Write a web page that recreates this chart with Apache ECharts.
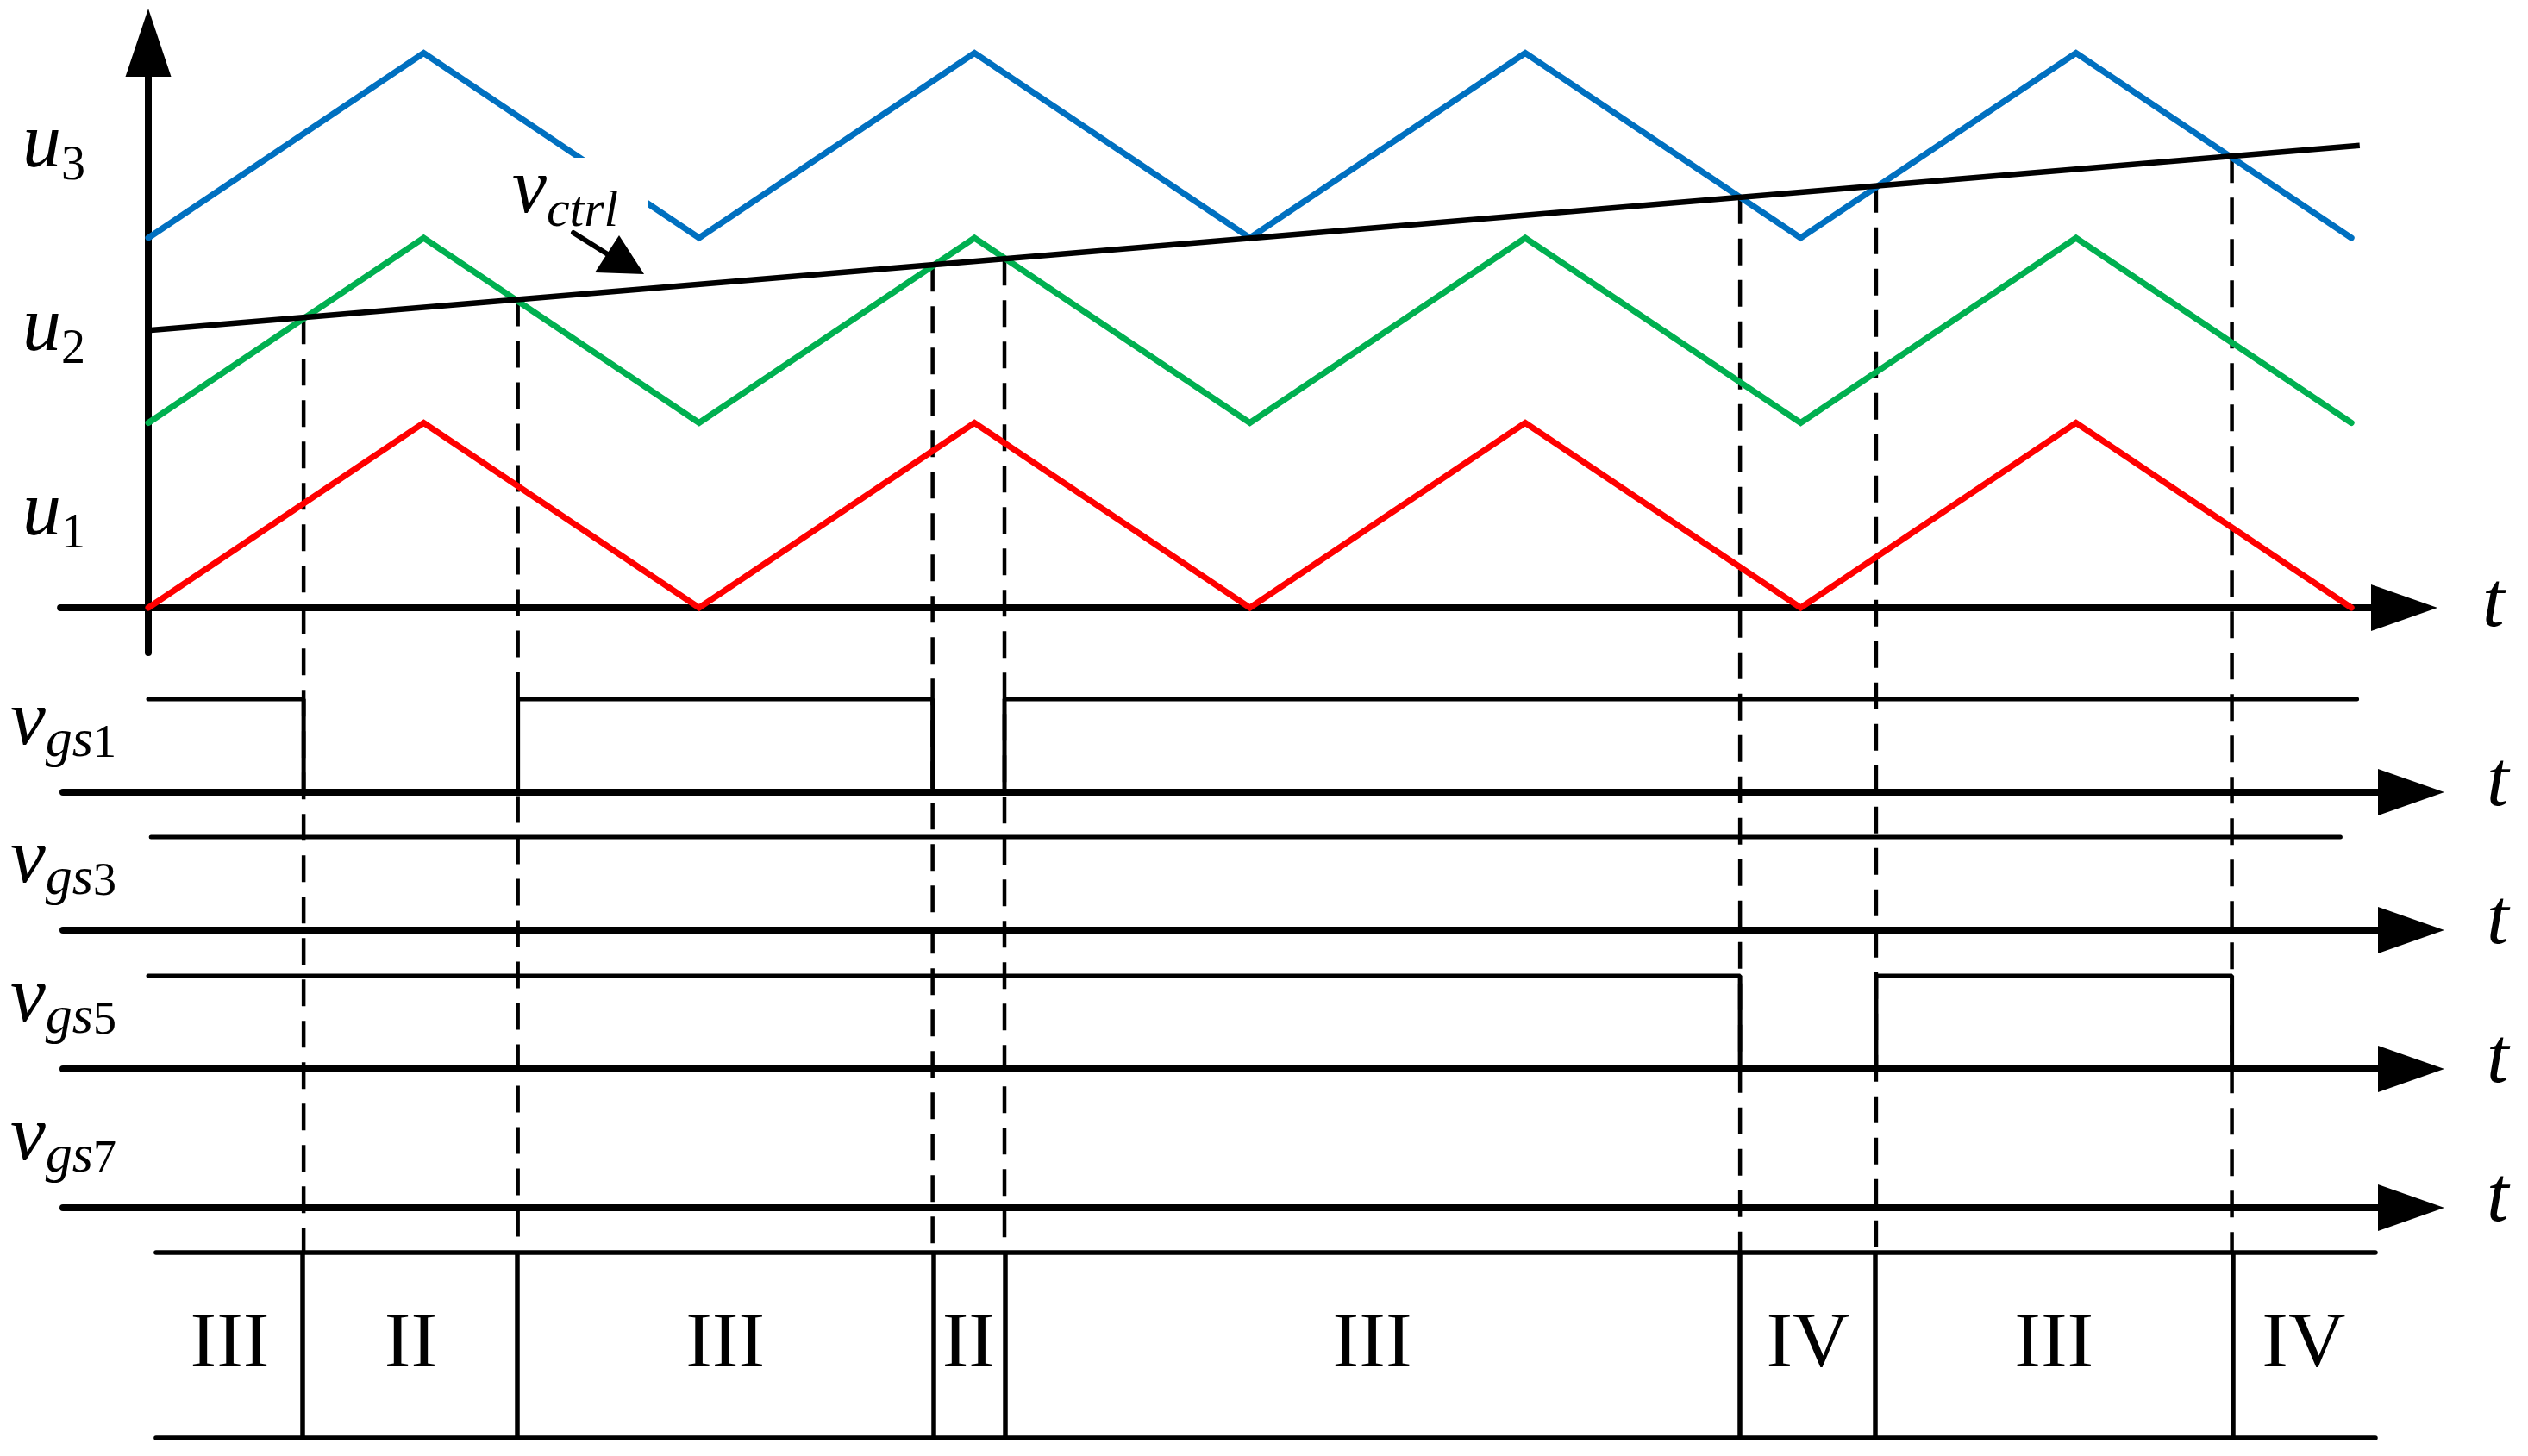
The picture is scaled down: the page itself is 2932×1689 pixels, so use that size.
<!DOCTYPE html>
<html><head><meta charset="utf-8">
<script src="https://cdn.jsdelivr.net/npm/echarts@6/dist/echarts.min.js"></script>
<style>html,body{margin:0;padding:0;background:#fff}#c{width:2932px;height:1689px}</style>
</head><body><div id="c"></div>
<script>
// ---------------- data ----------------
const carrierT = [0, 1, 2, 3, 4, 5, 6, 7, 8];
const u1 = [0, 1, 0, 1, 0, 1, 0, 1, 0];
const u2 = [1, 2, 1, 2, 1, 2, 1, 2, 1];
const u3 = [2, 3, 2, 3, 2, 3, 2, 3, 2];
const vctrlT = [0, 8.03];
const vctrlV = [1.5, 2.5];
const switchT = [0.564, 1.342, 2.848, 3.109, 5.780, 6.274, 7.566];
const vgs1T = [0, 0.564, 1.342, 2.848, 3.109, 8.02];
const vgs1V = [1, 0, 1, 0, 1, 1];
const vgs3T = [0.01, 7.96];
const vgs3V = [1, 1];
const vgs5T = [0, 5.780, 6.274, 7.566];
const vgs5V = [1, 0, 1, 0];
const vgs7T = [];
const vgs7V = [];
const modeBounds = [0.028, 0.564, 1.342, 2.848, 3.109, 5.780, 6.274, 7.566, 8.087];
const modeLabels = ['III', 'II', 'III', 'II', 'III', 'IV', 'III', 'IV'];
const carrierNames = ['1', '2', '3'];
const gateNames = ['1', '3', '5', '7'];

// ---------------- layout ----------------
const W = 2932, H = 1689;
const X0 = 172, PXT = 319.4;          // pixel of t=0, px per t unit
const Y0 = 705, PYU = 214.5;          // pixel of level 0 in top panel, px per unit
const SERIF = '"Liberation Serif", "Times New Roman", serif';
const COLORS = ['#FF0000', '#00B050', '#0070C0'];
const GATE_AXIS_Y = [919, 1079, 1240, 1401];
const GATE_H = 108;
const MODE_TOP = 1453, MODE_BOTTOM = 1668;
const DASH_END_PX = 1453;

function gx(tMin, tMax) { return { left: X0 + tMin * PXT, width: (tMax - tMin) * PXT }; }
const zip = (a, b) => a.map((v, i) => [v, b[i]]);
function vAt(t) {
  const f = (t - vctrlT[0]) / (vctrlT[1] - vctrlT[0]);
  return vctrlV[0] + f * (vctrlV[1] - vctrlV[0]);
}

const grids = [], xAxes = [], yAxes = [], series = [];
// top panel
const topTop = 49.5, topBottom = 757;
grids.push(Object.assign({ top: topTop, height: topBottom - topTop }, gx(-0.319, 8.192)));
xAxes.push({
  gridIndex: 0, type: 'value', min: -0.319, max: 8.192,
  axisLine: { show: true, onZero: true, symbol: ['none', 'triangle'], symbolSize: [54, 77],
    lineStyle: { color: '#000', width: 8 } },
  axisTick: { show: false }, axisLabel: { show: false }, splitLine: { show: false }
});
yAxes.push({
  gridIndex: 0, type: 'value', min: -(topBottom - Y0) / PYU, max: (Y0 - topTop) / PYU,
  axisLine: { show: true, onZero: true, symbol: ['none', 'triangle'], symbolSize: [53, 79],
    lineStyle: { color: '#000', width: 8 } },
  axisTick: { show: false }, axisLabel: { show: false }, splitLine: { show: false }
});
// gate panels
GATE_AXIS_Y.forEach((ay, i) => {
  grids.push(Object.assign({ top: ay - GATE_H, height: GATE_H }, gx(-0.31, 8.217)));
  xAxes.push({
    gridIndex: i + 1, type: 'value', min: -0.31, max: 8.217,
    axisLine: { show: true, onZero: false, symbol: ['none', 'triangle'], symbolSize: [54, 77],
      lineStyle: { color: '#000', width: 8 } },
    axisTick: { show: false }, axisLabel: { show: false }, splitLine: { show: false }
  });
  yAxes.push({ gridIndex: i + 1, type: 'value', min: 0, max: 1, show: false });
});
// mode panel
const mMin = modeBounds[0], mMax = modeBounds[modeBounds.length - 1];
grids.push(Object.assign({ top: MODE_TOP, height: MODE_BOTTOM - MODE_TOP }, gx(mMin, mMax)));
['bottom', 'top'].forEach(pos => xAxes.push({
  gridIndex: 5, type: 'value', position: pos, min: mMin, max: mMax,
  axisLine: { show: true, onZero: false, lineStyle: { color: '#000', width: 5.5 } },
  axisTick: { show: false }, axisLabel: { show: false }, splitLine: { show: false }
}));
yAxes.push({ gridIndex: 5, type: 'value', min: 0, max: 1, show: false });

// carriers
[u3, u2, u1].forEach((u, k) => {
  const idx = 2 - k;
  series.push({
    type: 'line', name: 'u' + carrierNames[idx], xAxisIndex: 0, yAxisIndex: 0,
    data: zip(carrierT, u), symbol: 'none', clip: false, z: 3,
    lineStyle: { color: COLORS[idx], width: 7, join: 'miter', cap: 'round' }
  });
});
// control signal
series.push({
  type: 'line', name: 'vctrl', xAxisIndex: 0, yAxisIndex: 0, data: zip(vctrlT, vctrlV),
  symbol: 'none', clip: false, z: 4, lineStyle: { color: '#000', width: 6.5 }
});
// dashed projection lines
const dashEnd = -(DASH_END_PX - Y0) / PYU;
switchT.forEach(t => series.push({
  type: 'line', xAxisIndex: 0, yAxisIndex: 0, data: [[t, vAt(t)], [t, dashEnd]],
  symbol: 'none', clip: false, z: 2, silent: true,
  lineStyle: { color: '#000', width: 4.5, type: [31, 17] }
}));
// gate signals
[[vgs1T, vgs1V], [vgs3T, vgs3V], [vgs5T, vgs5V], [vgs7T, vgs7V]].forEach((g, i) => {
  series.push({
    type: 'line', name: 'vgs' + gateNames[i], xAxisIndex: i + 1, yAxisIndex: i + 1,
    data: zip(g[0], g[1]), step: 'end', symbol: 'none', clip: false, z: 3,
    lineStyle: { color: '#000', width: 5, cap: 'round' }
  });
});
// mode row
series.push({
  type: 'scatter', xAxisIndex: 5, yAxisIndex: 5, symbolSize: 1,
  itemStyle: { color: 'rgba(0,0,0,0)', opacity: 1 }, silent: true,
  data: modeLabels.map((s, i) => [(modeBounds[i] + modeBounds[i + 1]) / 2, 0.5, s]),
  label: { show: true, position: 'inside', formatter: p => p.value[2],
    fontFamily: SERIF, fontSize: 92, color: '#000', opacity: 1, textBorderWidth: 0 },
  markLine: {
    silent: true, symbol: ['none', 'none'], label: { show: false },
    lineStyle: { type: 'solid', color: '#000', width: 5.5, opacity: 1 },
    data: modeBounds.slice(1, -1).map(t => ({ xAxis: t }))
  }
});

// ---------------- text annotations ----------------
const cv = document.createElement('canvas').getContext('2d');
function fnt(size, it) { return (it ? 'italic ' : '') + size + 'px ' + SERIF; }
function label(x, base, parts) {
  const out = [];
  let cx = x;
  parts.forEach(p => {
    const f = fnt(p.size, p.it);
    out.push({ type: 'text', x: cx + (p.dx || 0), y: base + (p.dy || 0) - 0.3375 * p.size, z: 100,
      style: { text: p.s, font: f, fill: '#000', align: 'left', verticalAlign: 'middle' } });
    cv.font = f;
    cx += cv.measureText(p.s).width + (p.dx || 0);
  });
  return out;
}
let graphics = [];
// u labels
const uBase = [627, 413, 200];
carrierNames.forEach((n, i) => {
  graphics = graphics.concat(label(26, uBase[i], [
    { s: 'u', size: 90, it: true }, { s: n, size: 56, it: false, dy: 12, dx: 0 }]));
});
// gate labels
GATE_AXIS_Y.forEach((ay, i) => {
  graphics = graphics.concat(label(12, ay - 49, [
    { s: 'v', size: 92, it: true }, { s: 'gs', size: 62, it: true, dy: 12 },
    { s: gateNames[i], size: 54, it: false, dy: 12 }]));
});
// t labels
graphics = graphics.concat(label(2879, Y0 + 28, [{ s: 't', size: 92, it: true }]));
GATE_AXIS_Y.forEach(ay => {
  graphics = graphics.concat(label(2884, ay + 22, [{ s: 't', size: 92, it: true }]));
});
// vctrl label with white box and arrow
graphics.push({ type: 'rect', z: 50, shape: { x: 590, y: 183, width: 162, height: 85 },
  style: { fill: '#fff' } });
graphics = graphics.concat(label(594, 253, [
  { s: 'v', size: 90, it: true }, { s: 'ctrl', size: 60, it: true, dy: 13 }]));
graphics.push({ type: 'polyline', z: 100, shape: { points: [[665, 270], [708, 297]] },
  style: { stroke: '#000', lineWidth: 6, fill: null, lineCap: 'round' } });
graphics.push({ type: 'polygon', z: 100, shape: { points: [[747, 318], [690, 316], [718, 273]] },
  style: { fill: '#000' } });

const chart = echarts.init(document.getElementById('c'), null, { renderer: 'canvas', width: W, height: H });
chart.setOption({
  animation: false,
  backgroundColor: '#fff',
  grid: grids, xAxis: xAxes, yAxis: yAxes, series: series,
  graphic: { elements: graphics }
});
</script></body></html>
